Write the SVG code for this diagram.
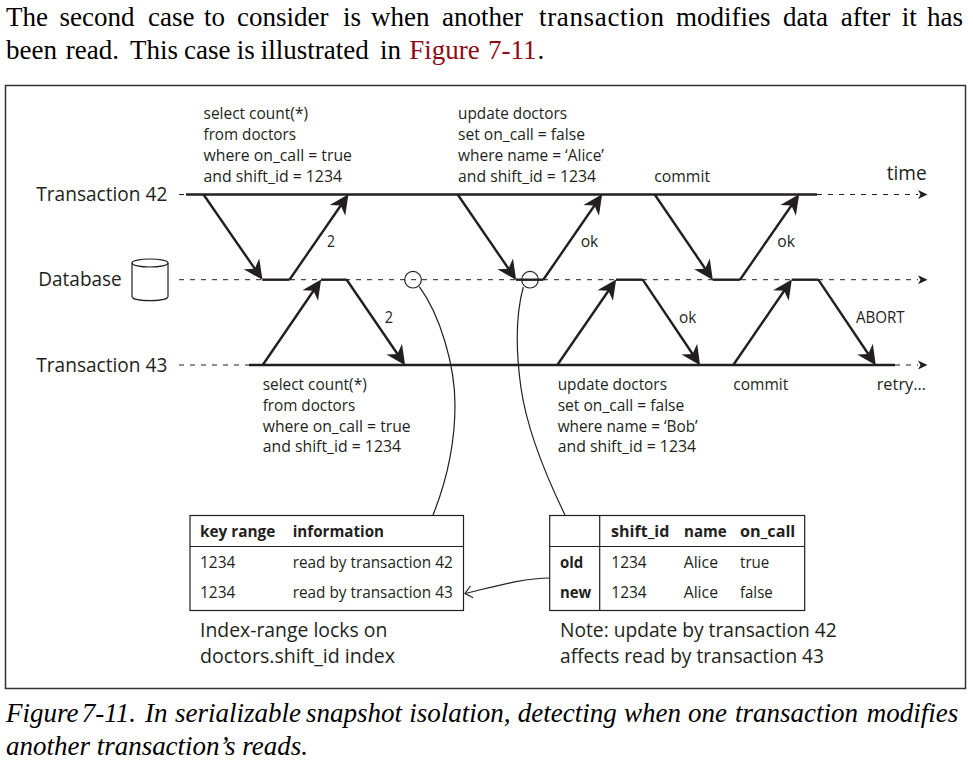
<svg xmlns="http://www.w3.org/2000/svg" width="973" height="764" viewBox="0 0 973 764">
<style>
text{font-family:"Open Sans","Noto Sans",sans-serif;font-size:15.5px;fill:#231f20}
.b{font-weight:700}
.l{font-size:20px}
.s{font-family:"Liberation Serif",serif;font-size:27px;fill:#000}
.i{font-style:italic}
.r{fill:#8f0a12}
.h{fill:none;stroke:#231f20;stroke-width:2.4}
.a{marker-end:url(#head)}
.d{fill:none;stroke:#231f20;stroke-width:1;stroke-dasharray:5 6}
.e{marker-end:url(#small)}
.t{fill:none;stroke:#231f20;stroke-width:1.2}
.c{fill:#fff;stroke:#231f20;stroke-width:1.2}
.o{fill:none;stroke:#231f20;stroke-width:1.2}
</style>
<defs>
<marker id="head" markerUnits="userSpaceOnUse" markerWidth="22" markerHeight="22" viewBox="-1 -10 21 20" refX="12.5" refY="0" orient="auto"><path d="M0,-9 L18.5,0 L0,9 L5.5,0 Z" fill="#231f20"/></marker>
<marker id="small" markerUnits="userSpaceOnUse" markerWidth="11" markerHeight="10" viewBox="0 -5 10 10" refX="0" refY="0" orient="auto"><path d="M0,-4.5 L9.5,0 L0,4.5 L2.5,0 Z" fill="#231f20"/></marker>
<marker id="open" markerUnits="userSpaceOnUse" markerWidth="10" markerHeight="16" viewBox="-8 -8 9 16" refX="0" refY="0" orient="auto"><path d="M-7,-6 L0,0 L-7,6" fill="none" stroke="#231f20" stroke-width="1.2"/></marker>
</defs>
<g id="intro">
<text class="s" y="26"><tspan x="6">The</tspan><tspan x="59.5">second</tspan><tspan x="148">case</tspan><tspan x="204">to</tspan><tspan x="237">consider</tspan><tspan x="343">is</tspan><tspan x="371">when</tspan><tspan x="442">another</tspan><tspan x="539" textLength="125">transaction</tspan><tspan x="676">modifies</tspan><tspan x="783">data</tspan><tspan x="840.7">after</tspan><tspan x="901.7">it</tspan><tspan x="927">has</tspan></text>
<text class="s" y="59"><tspan x="6">been</tspan><tspan x="65.7">read.</tspan><tspan x="130">This</tspan><tspan x="184">case</tspan><tspan x="236.7">is</tspan><tspan x="260.7">illustrated</tspan><tspan x="380">in</tspan><tspan x="409.3" class="r">Figure</tspan><tspan x="488" class="r">7-11</tspan><tspan x="537.5">.</tspan></text>
</g>
<rect id="frame" x="5.5" y="85.5" width="960" height="603" fill="none" stroke="#333" stroke-width="1.5"/>
<g id="connectors">
<path class="d" d="M179,194.5H186"/>
<path class="d e" d="M817,194.5H918"/>
<path class="d" d="M179,279.7H262"/>
<path class="d e" d="M290,279.7H918"/>
<path class="d" d="M179,365H249"/>
<path class="d e" d="M895,365H918"/>
<path class="h" d="M186,194.5H817"/>
<path class="h" d="M249,365H895"/>
<path class="h a" d="M203.5,194.5L258.9,274.7"/>
<path class="h" d="M262.3,279.7H289.5"/>
<path class="h a" d="M289.5,279.7L344.9,199.5"/>
<path class="h a" d="M262.7,365L317.6,284.7"/>
<path class="h" d="M321,279.7H346.7"/>
<path class="h a" d="M346.7,279.7L401.6,360"/>
<path class="h a" d="M457.7,194.5L512.6,274.7"/>
<path class="h" d="M516,279.7H543.3"/>
<path class="h a" d="M543.3,279.7L598.6,199.5"/>
<path class="h a" d="M654.7,194.5L709.3,274.7"/>
<path class="h" d="M712.7,279.7H740"/>
<path class="h a" d="M740,279.7L795.6,199.5"/>
<path class="h a" d="M557.3,365L612.6,284.7"/>
<path class="h" d="M616,279.7H642.7"/>
<path class="h a" d="M642.7,279.7L696.6,360"/>
<path class="h a" d="M733.3,365L788.3,284.7"/>
<path class="h" d="M791.7,279.7H818.3"/>
<path class="h a" d="M818.3,279.7L872.3,360"/>
<path class="o" d="M419.3,286.7C440,315 455,365 455,405C455,445 445,485 433,515"/>
<path class="o" d="M523.3,287C517,310 515,345 521,388C527,430 548,480 565,515"/>
<path class="o" d="M549.7,578C525,578 500,585 465,593.5" marker-end="url(#open)"/>
</g>
<g id="marker-a"><circle cx="413" cy="279.7" r="8.3" class="o"/></g>
<g id="marker-b"><circle cx="530" cy="279.7" r="8.3" class="o"/></g>
<g id="transaction-42"><text class="l" x="36.3" y="201" textLength="131" lengthAdjust="spacingAndGlyphs">Transaction 42</text></g>
<g id="database">
<text class="l" x="38.3" y="286" textLength="83.4" lengthAdjust="spacingAndGlyphs">Database</text>
<path class="t" d="M132,263V296.5C132,302 168,302 168,296.5V263"/>
<ellipse class="t" cx="150" cy="263" rx="18" ry="4"/>
</g>
<g id="transaction-43"><text class="l" x="36.3" y="371.7" textLength="131" lengthAdjust="spacingAndGlyphs">Transaction 43</text></g>
<g id="time"><text class="l" x="886.7" y="180" textLength="40" lengthAdjust="spacingAndGlyphs">time</text></g>
<g id="query-select-42">
<text x="203.5" y="119" textLength="104.5" lengthAdjust="spacingAndGlyphs">select count(*)</text>
<text x="203.5" y="140" textLength="92.5" lengthAdjust="spacingAndGlyphs">from doctors</text>
<text x="203.5" y="160.7" textLength="148.5" lengthAdjust="spacingAndGlyphs">where on_call = true</text>
<text x="203.5" y="181.7" textLength="138.5" lengthAdjust="spacingAndGlyphs">and shift_id = 1234</text>
</g>
<g id="query-update-42">
<text x="458" y="119" textLength="109" lengthAdjust="spacingAndGlyphs">update doctors</text>
<text x="458" y="140" textLength="127" lengthAdjust="spacingAndGlyphs">set on_call = false</text>
<text x="458" y="160.7" textLength="146" lengthAdjust="spacingAndGlyphs">where name = ‘Alice’</text>
<text x="458" y="181.7" textLength="138" lengthAdjust="spacingAndGlyphs">and shift_id = 1234</text>
</g>
<g id="commit-42"><text x="654.3" y="181.7" textLength="55.7" lengthAdjust="spacingAndGlyphs">commit</text></g>
<g id="query-select-43">
<text x="262.7" y="390" textLength="104" lengthAdjust="spacingAndGlyphs">select count(*)</text>
<text x="262.7" y="410.7" textLength="92.6" lengthAdjust="spacingAndGlyphs">from doctors</text>
<text x="262.7" y="431.7" textLength="148" lengthAdjust="spacingAndGlyphs">where on_call = true</text>
<text x="262.7" y="452.3" textLength="138.3" lengthAdjust="spacingAndGlyphs">and shift_id = 1234</text>
</g>
<g id="query-update-43">
<text x="557.7" y="390" textLength="109.3" lengthAdjust="spacingAndGlyphs">update doctors</text>
<text x="557.7" y="410.7" textLength="126.6" lengthAdjust="spacingAndGlyphs">set on_call = false</text>
<text x="557.7" y="431.7" textLength="140" lengthAdjust="spacingAndGlyphs">where name = ‘Bob’</text>
<text x="557.7" y="452.3" textLength="138.3" lengthAdjust="spacingAndGlyphs">and shift_id = 1234</text>
</g>
<g id="commit-43"><text x="733.3" y="390" textLength="55" lengthAdjust="spacingAndGlyphs">commit</text></g>
<g id="retry"><text x="876.7" y="390" textLength="49.3" lengthAdjust="spacingAndGlyphs">retry…</text></g>
<g id="labels">
<text x="327" y="246.7" textLength="8" lengthAdjust="spacingAndGlyphs">2</text>
<text x="580.7" y="246.7" textLength="17.6" lengthAdjust="spacingAndGlyphs">ok</text>
<text x="777.3" y="246.7" textLength="17.7" lengthAdjust="spacingAndGlyphs">ok</text>
<text x="384.7" y="322.7" textLength="8.3" lengthAdjust="spacingAndGlyphs">2</text>
<text x="679" y="322.7" textLength="17.3" lengthAdjust="spacingAndGlyphs">ok</text>
<text x="856" y="322.7" textLength="48.7" lengthAdjust="spacingAndGlyphs">ABORT</text>
</g>
<g id="index-table">
<rect class="c" x="190" y="515.5" width="273.5" height="95"/>
<path class="t" d="M190,546.5H463.5"/>
<text class="b" x="200" y="537.3" textLength="75.3" lengthAdjust="spacingAndGlyphs">key range</text>
<text class="b" x="292.7" y="537.3" textLength="91.3" lengthAdjust="spacingAndGlyphs">information</text>
<text x="200" y="568.3" textLength="35.3" lengthAdjust="spacingAndGlyphs">1234</text>
<text x="292.7" y="568.3" textLength="160" lengthAdjust="spacingAndGlyphs">read by transaction 42</text>
<text x="200" y="598.3" textLength="35.3" lengthAdjust="spacingAndGlyphs">1234</text>
<text x="292.7" y="598.3" textLength="160" lengthAdjust="spacingAndGlyphs">read by transaction 43</text>
</g>
<g id="row-table">
<rect class="c" x="549.7" y="515.5" width="255" height="95"/>
<path class="t" d="M549.7,546.5H804.7M599.7,515.5V610.5"/>
<text class="b" x="611" y="537.3" textLength="58.3" lengthAdjust="spacingAndGlyphs">shift_id</text>
<text class="b" x="684" y="537.3" textLength="42.7" lengthAdjust="spacingAndGlyphs">name</text>
<text class="b" x="740" y="537.3" textLength="55.3" lengthAdjust="spacingAndGlyphs">on_call</text>
<text class="b" x="560" y="568.3" textLength="23.3" lengthAdjust="spacingAndGlyphs">old</text>
<text x="611.3" y="568.3" textLength="35.4" lengthAdjust="spacingAndGlyphs">1234</text>
<text x="683.7" y="568.3" textLength="34.3" lengthAdjust="spacingAndGlyphs">Alice</text>
<text x="740" y="568.3" textLength="29.3" lengthAdjust="spacingAndGlyphs">true</text>
<text class="b" x="560" y="598.3" textLength="31.3" lengthAdjust="spacingAndGlyphs">new</text>
<text x="611.3" y="598.3" textLength="35.4" lengthAdjust="spacingAndGlyphs">1234</text>
<text x="683.7" y="598.3" textLength="34.3" lengthAdjust="spacingAndGlyphs">Alice</text>
<text x="740" y="598.3" textLength="32.7" lengthAdjust="spacingAndGlyphs">false</text>
</g>
<g id="index-note">
<text class="l" x="200" y="637.3" textLength="187.3" lengthAdjust="spacingAndGlyphs">Index-range locks on</text>
<text class="l" x="200" y="662.7" textLength="195" lengthAdjust="spacingAndGlyphs">doctors.shift_id index</text>
</g>
<g id="update-note">
<text class="l" x="560" y="637.3" textLength="276.7" lengthAdjust="spacingAndGlyphs">Note: update by transaction 42</text>
<text class="l" x="560" y="662.7" textLength="264" lengthAdjust="spacingAndGlyphs">affects read by transaction 43</text>
</g>
<g id="caption">
<text class="s i" y="722"><tspan x="6">Figure</tspan><tspan x="81.7">7-11.</tspan><tspan x="145">In</tspan><tspan x="175">serializable</tspan><tspan x="306">snapshot</tspan><tspan x="409.3">isolation,</tspan><tspan x="517.7">detecting</tspan><tspan x="624">when</tspan><tspan x="688">one</tspan><tspan x="735">transaction</tspan><tspan x="866.7">modifies</tspan></text>
<text class="s i" y="755" textLength="302" lengthAdjust="spacing" x="6">another transaction’s reads.</text>
</g>
</svg>
